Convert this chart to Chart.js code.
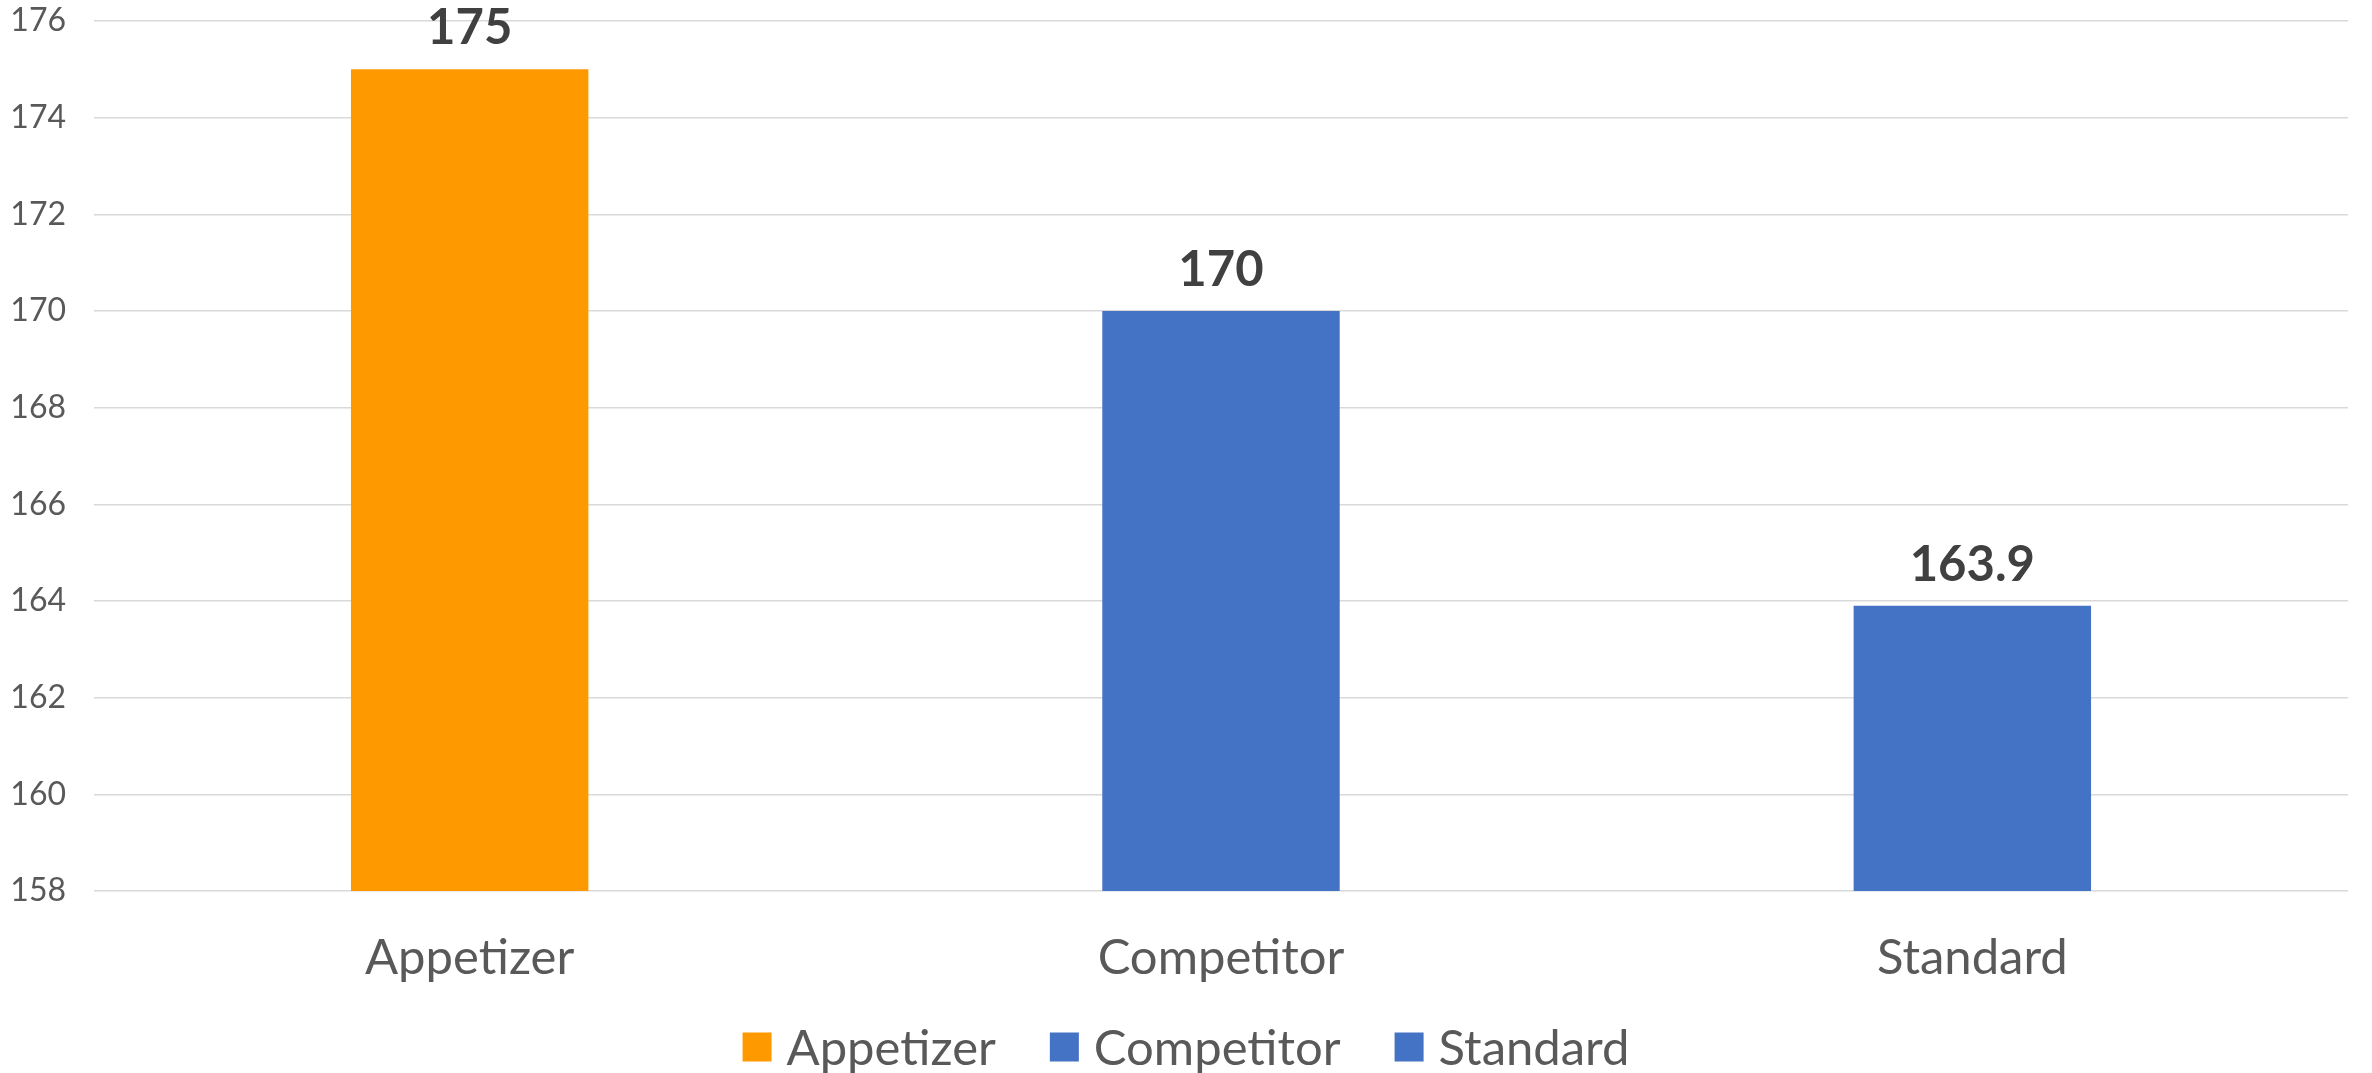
<!DOCTYPE html>
<html>
<head>
<meta charset="utf-8">
<script src="https://cdn.jsdelivr.net/npm/chart.js@4/dist/chart.umd.min.js"></script>
<style>
  html, body { margin: 0; padding: 0; background: #fff; }
  #wrap { width: 2372px; height: 1073px; position: relative; }
</style>
</head>
<body>
<div id="wrap"><canvas id="chart"></canvas></div>
<script>
const categories = ['Appetizer', 'Competitor', 'Standard'];
const values = [175, 170, 163.9];
const barColors = ['#FF9900', '#4472C4', '#4472C4'];
const yMin = 158;
const yMax = 176;
const yStep = 2;

const FONT = 'Lato, "Open Sans", sans-serif';

// value labels above each bar
const valueLabels = {
  id: 'valueLabels',
  afterDatasetsDraw(chart) {
    const ctx = chart.ctx;
    const meta = chart.getDatasetMeta(0);
    ctx.save();
    ctx.font = 'bold 49px ' + FONT;
    ctx.fillStyle = '#404040';
    ctx.textAlign = 'center';
    ctx.textBaseline = 'alphabetic';
    meta.data.forEach((bar, i) => {
      ctx.fillText(String(values[i]), bar.x, bar.y - 25);
    });
    ctx.restore();
  }
};

// legend row under the axis, one item per category
const bottomLegend = {
  id: 'bottomLegend',
  afterDraw(chart) {
    const ctx = chart.ctx;
    const box = 29, gapText = 15, gapItem = 54;
    const cy = 1047;
    ctx.save();
    ctx.font = '49px ' + FONT;
    const widths = categories.map(c => ctx.measureText(c).width);
    const total = widths.reduce((a, w) => a + box + gapText + w, 0) + gapItem * (categories.length - 1);
    let x = chart.width / 2 - total / 2;
    ctx.textBaseline = 'middle';
    ctx.textAlign = 'left';
    categories.forEach((c, i) => {
      ctx.fillStyle = barColors[i];
      ctx.fillRect(x, cy - box / 2, box, box);
      x += box + gapText;
      ctx.fillStyle = '#595959';
      ctx.fillText(c, x, cy + 2);
      x += widths[i] + gapItem;
    });
    ctx.restore();
  }
};

new Chart(document.getElementById('chart'), {
  type: 'bar',
  data: {
    labels: categories,
    datasets: [{
      label: 'Value',
      data: values,
      backgroundColor: barColors,
      borderWidth: 0,
      categoryPercentage: 1,
      barPercentage: 0.316
    }]
  },
  options: {
    responsive: true,
    maintainAspectRatio: false,
    animation: false,
    layout: { padding: { top: 21, right: 24, left: 0, bottom: 0 } },
    plugins: {
      legend: { display: false },
      tooltip: { enabled: false }
    },
    scales: {
      y: {
        min: yMin,
        max: yMax,
        ticks: {
          stepSize: yStep,
          color: '#595959',
          font: { family: FONT, size: 32 },
          padding: 28
        },
        grid: { color: '#D9D9D9', lineWidth: 1.5, drawTicks: false },
        border: { display: false },
        afterFit(scale) {
          scale.width = 94;
          scale.paddingTop = 0;
          scale.paddingBottom = 0;
        }
      },
      x: {
        ticks: {
          color: '#595959',
          font: { family: FONT, size: 49 },
          padding: 38
        },
        grid: { display: false, drawTicks: false },
        border: { display: false },
        afterFit(scale) {
          scale.height = 182;
          scale.paddingLeft = 0;
          scale.paddingRight = 0;
        }
      }
    }
  },
  plugins: [valueLabels, bottomLegend]
});
</script>
</body>
</html>
